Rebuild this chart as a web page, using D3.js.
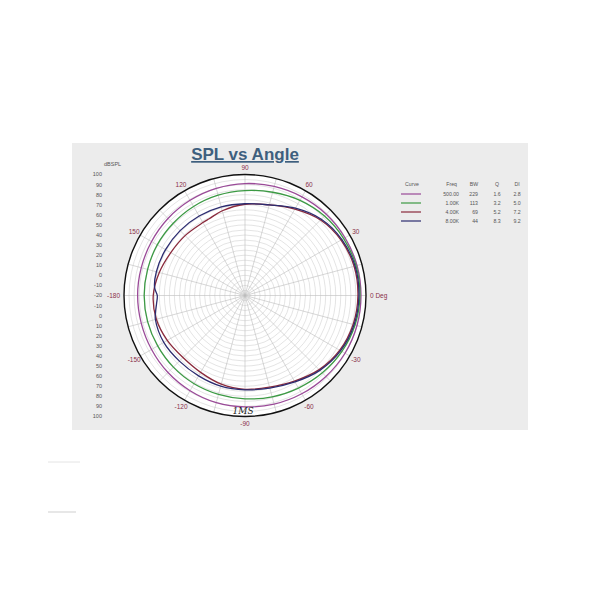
<!DOCTYPE html>
<html><head><meta charset="utf-8">
<script src="https://cdn.jsdelivr.net/npm/d3@7"></script>
<style>body{margin:0;background:#fff;}svg{display:block;}</style>
</head><body>
<script>
// ---- data ----
const angles = [0,15,30,45,60,75,90,105,120,135,150,165,180,-165,-150,-135,-120,-105,-90,-75,-60,-45,-30,-15];
const spl500 = [95,95,94.5,94,93,92,91,90,89,88,87,86.5,86.5,86.5,87,88,89,90,90.5,91.5,92.5,93.5,94.5,95];
const spl1k  = [94,94,93,91.5,89,86,84,83,82,81,80.5,80,80,80,80,80.5,81,81.5,82.5,84,86,88.5,91,93];
const angles4k = [0,15,30,45,60,75,90,105,115,120,135,150,165,180,-165,-150,-135,-120,-105,-90,-75,-60,-45,-30,-15];
const spl4k  = [92,92,90,86,79,73,70.5,67,64,63.5,64,65,68,71,71,69,67,68,71,73,74,78,84,88.5,91];
const angles8k = [0,15,30,45,60,75,90,105,120,135,150,165,175,180,-175,-170,-165,-150,-135,-120,-105,-90,-75,-60,-45,-30,-15];
const spl8k  = [93,93,91,87,80,73,71,71,71,71,71,71,70,67,68,70,72,73,72,72,73,73.5,75,79,85,89.5,92];
const curveNames = ["500.00","1.00K","4.00K","8.00K"];
const curveBW = ["229","113","69","44"];
const curveQ = ["1.6","3.2","5.2","8.3"];
const curveDI = ["2.8","5.0","7.2","9.2"];
const curveColors = ["#9a4a98","#3c9a44","#8a2a3c","#2c2c70"];
const dbTicks = [100,90,80,70,60,50,40,30,20,10,0,-10,-20];
const angleTicks = [0,30,60,90,120,150,180,-150,-120,-90,-60,-30];
const angleLabels = ["0 Deg","30","60","90","120","150","-180","-150","-120","-90","-60","-30"];

const W=600,H=600;
const svg=d3.select("body").append("svg").attr("width",W).attr("height",H);
svg.append("rect").attr("x",72).attr("y",143).attr("width",456).attr("height",287).attr("fill","#ececec");

const cx=245, cy=295.5, R=121;
const r=d3.scaleLinear().domain([-20,100]).range([0,R]);
const g=svg.append("g").attr("transform",`translate(${cx},${cy})`);
g.append("circle").attr("r",R).attr("fill","#fff");
// rings
const rings=d3.range(-15,100,5);
g.selectAll("circle.ring").data(rings).join("circle").attr("class","ring")
 .attr("r",d=>r(d)).attr("fill","none").attr("stroke","#d2d2d2").attr("stroke-width",0.6);
// spokes
const spokes=d3.range(0,360,15);
g.selectAll("line.spoke").data(spokes).join("line")
 .attr("x1",0).attr("y1",0)
 .attr("x2",d=>R*Math.cos(d*Math.PI/180)).attr("y2",d=>-R*Math.sin(d*Math.PI/180))
 .attr("stroke","#bcbcbc").attr("stroke-width",0.6);
g.append("circle").attr("r",R).attr("fill","none").attr("stroke","#111").attr("stroke-width",1.4);

// curves
const series=[[angles,spl500],[angles,spl1k],[angles4k,spl4k],[angles8k,spl8k]];
const line=d3.lineRadial().angle(d=>Math.PI/2-d[0]*Math.PI/180).radius(d=>r(d[1])).curve(d3.curveCatmullRomClosed);
series.forEach((s,i)=>{
  const pts=s[0].map((a,j)=>[a,s[1][j]]).sort((p,q)=>p[0]-q[0]);
  g.append("path").attr("d",line(pts)).attr("fill","none").attr("stroke",curveColors[i]).attr("stroke-width",1.3);
});

// angle labels
g.selectAll("text.ang").data(angleTicks).join("text")
 .attr("x",(d,i)=>{const rr=(d===0||d===180)?125:128;return rr*Math.cos(d*Math.PI/180);})
 .attr("y",d=>-128*Math.sin(d*Math.PI/180))
 .attr("dy","0.35em")
 .attr("text-anchor",d=>d===0?"start":(d===180?"end":"middle"))
 .attr("font-family","Liberation Sans, Arial, sans-serif").attr("font-size",6.5).attr("fill","#8a3048")
 .text((d,i)=>angleLabels[i]);

// scribble mark
svg.append("text").attr("x",243).attr("y",414).attr("text-anchor","middle")
 .attr("font-family","DejaVu Serif, serif").attr("font-style","italic").attr("font-size",9).attr("fill","#222").text("1MS");

// left dB scale
const yUp=d3.scaleLinear().domain([100,-20]).range([cy-R,cy]);
const yDn=d3.scaleLinear().domain([-20,100]).range([cy,cy+R]);
const axFont="Liberation Sans, Arial, sans-serif";
svg.selectAll("text.dbu").data(dbTicks).join("text").attr("class","dbu")
 .attr("x",102).attr("y",d=>yUp(d)).attr("dy","0.35em").attr("text-anchor","end")
 .attr("font-family",axFont).attr("font-size",5.5).attr("fill","#555").text(d=>d);
svg.selectAll("text.dbd").data(dbTicks.slice(0,-1)).join("text").attr("class","dbd")
 .attr("x",102).attr("y",d=>yDn(d)).attr("dy","0.35em").attr("text-anchor","end")
 .attr("font-family",axFont).attr("font-size",5.5).attr("fill","#555").text(d=>d);
svg.append("text").attr("x",104).attr("y",166).attr("font-family",axFont).attr("font-size",5.5).attr("fill","#555").text("dBSPL");

// title
svg.append("text").attr("x",245).attr("y",160).attr("text-anchor","middle")
 .attr("font-family","Liberation Sans, Arial, sans-serif").attr("font-weight","bold").attr("font-size",17)
 .attr("fill","#3e5f7e").attr("text-decoration","underline").text("SPL vs Angle");

// legend
const lg=svg.append("g").attr("font-family",axFont).attr("font-size",5.2).attr("fill","#555");
const rowY=[194,203,212,221];
lg.append("text").attr("x",412).attr("y",184).attr("dy","0.35em").attr("text-anchor","middle").text("Curve");
lg.append("text").attr("x",457).attr("y",184).attr("dy","0.35em").attr("text-anchor","end").text("Freq");
lg.append("text").attr("x",474).attr("y",184).attr("dy","0.35em").attr("text-anchor","middle").text("BW");
lg.append("text").attr("x",497).attr("y",184).attr("dy","0.35em").attr("text-anchor","middle").text("Q");
lg.append("text").attr("x",517).attr("y",184).attr("dy","0.35em").attr("text-anchor","middle").text("DI");
curveNames.forEach((n,i)=>{
  lg.append("line").attr("x1",401).attr("x2",421).attr("y1",rowY[i]).attr("y2",rowY[i]).attr("stroke",curveColors[i]).attr("stroke-width",1.2);
  lg.append("text").attr("x",459).attr("y",rowY[i]).attr("dy","0.35em").attr("text-anchor","end").text(n);
  lg.append("text").attr("x",478).attr("y",rowY[i]).attr("dy","0.35em").attr("text-anchor","end").text(curveBW[i]);
  lg.append("text").attr("x",497).attr("y",rowY[i]).attr("dy","0.35em").attr("text-anchor","middle").text(curveQ[i]);
  lg.append("text").attr("x",517).attr("y",rowY[i]).attr("dy","0.35em").attr("text-anchor","middle").text(curveDI[i]);
});

// faint artefacts below the panel
svg.append("line").attr("x1",48).attr("x2",80).attr("y1",462).attr("y2",462).attr("stroke","#e4e4e4").attr("stroke-width",1);
svg.append("line").attr("x1",48).attr("x2",76).attr("y1",512).attr("y2",512).attr("stroke","#cfcfcf").attr("stroke-width",1);
</script>
</body></html>
